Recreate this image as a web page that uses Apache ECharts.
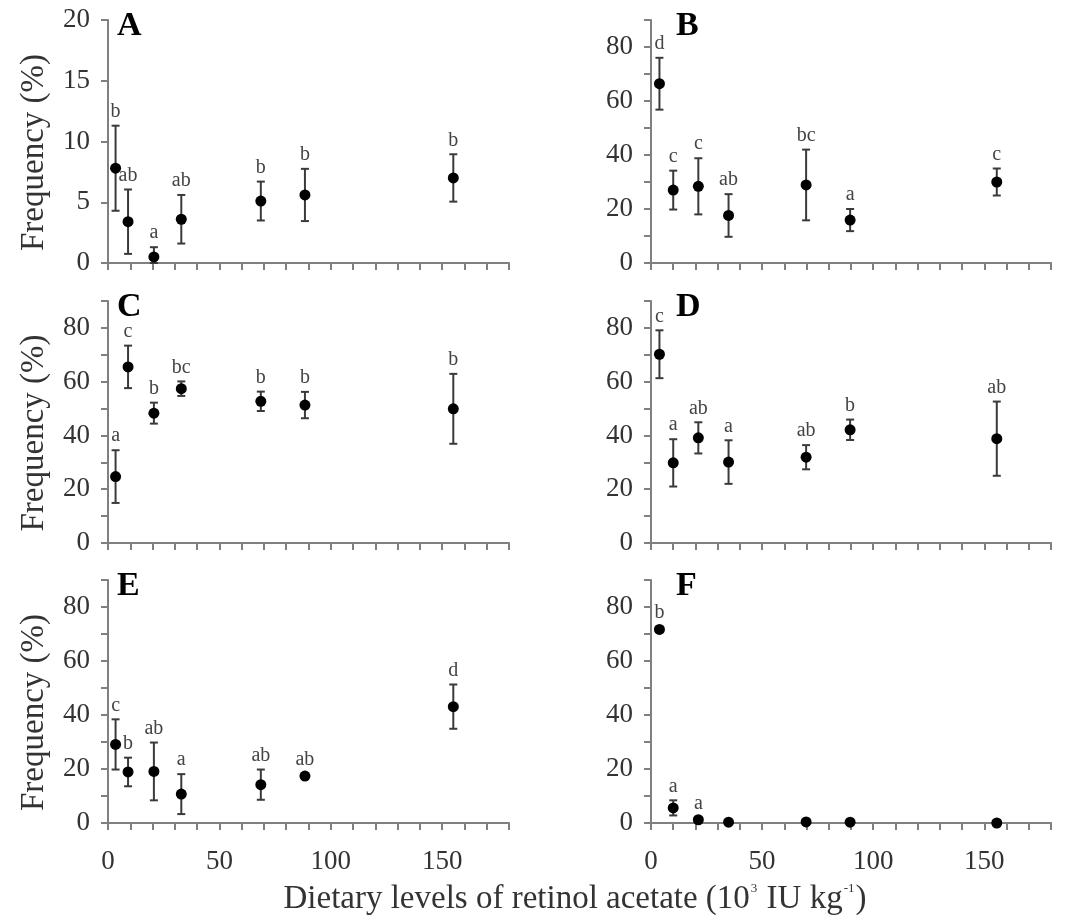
<!DOCTYPE html>
<html>
<head>
<meta charset="utf-8">
<script src="https://cdn.jsdelivr.net/npm/echarts@6/dist/echarts.min.js"></script>
<style>
html,body{margin:0;padding:0;background:#fff;}
#chart{width:1071px;height:919px;}
</style>
</head>
<body>
<div id="chart"></div>
<script>
// Dietary levels (x positions) for left and right columns
const xLeft  = [3.4, 9.0, 20.6, 32.9, 68.6, 88.4, 155.0];
const xRight = [3.8, 10.0, 21.3, 34.9, 69.8, 89.6, 155.6];

const meanA = [7.8, 3.4, 0.5, 3.6, 5.1, 5.6, 7.0];
const sdA   = [3.5, 2.65, 0.8, 2.0, 1.6, 2.15, 1.95];
const letA  = ['b','ab','a','ab','b','b','b'];

const meanB = [66.4, 27.0, 28.4, 17.6, 28.9, 15.9, 30.0];
const sdB   = [9.6, 7.2, 10.4, 7.9, 13.1, 4.1, 5.0];
const letB  = ['d','c','c','ab','bc','a','c'];

const meanC = [24.7, 65.5, 48.3, 57.4, 52.7, 51.3, 49.9];
const sdC   = [9.8, 7.9, 3.9, 2.7, 3.6, 4.9, 13.0];
const letC  = ['a','c','b','bc','b','b','b'];

const meanD = [70.2, 29.8, 39.1, 30.1, 31.9, 42.1, 38.8];
const sdD   = [8.9, 8.8, 5.8, 8.1, 4.5, 3.8, 13.8];
const letD  = ['c','a','ab','a','ab','b','ab'];

const meanE = [29.1, 18.9, 19.1, 10.7, 14.2, 17.4, 43.1];
const sdE   = [9.3, 5.3, 10.7, 7.4, 5.6, 0.9, 8.2];
const letE  = ['c','b','ab','a','ab','ab','d'];

const meanF = [71.7, 5.6, 1.2, 0.3, 0.4, 0.3, 0.0];
const sdF   = [1.0, 2.8, 0.8, 0.3, 0.3, 0.3, 0.3];
const letF  = ['b','a','a','','','',''];

const panelNames = ['A','B','C','D','E','F'];
const yMaxes = [20, 90, 90, 90, 90, 90];
const yIntervals = [5, 10, 10, 10, 10, 10];
const xTickLabels = ['0','50','100','150'];

const FONT = '"Liberation Serif", "Times New Roman", serif';
const AXIS_COLOR = '#808080';
const TEXT_COLOR = '#333';

const panels = [
  {x: xLeft,  m: meanA, s: sdA, l: letA},
  {x: xRight, m: meanB, s: sdB, l: letB},
  {x: xLeft,  m: meanC, s: sdC, l: letC},
  {x: xRight, m: meanD, s: sdD, l: letD},
  {x: xLeft,  m: meanE, s: sdE, l: letE},
  {x: xRight, m: meanF, s: sdF, l: letF}
];

const rowTops = [20, 301, 580];
const rowHeights = [243, 242, 243];
const colLefts = [108, 651];
const colWidths = [401, 400];

const grids = [], xAxes = [], yAxes = [], series = [], graphics = [];

panels.forEach((p, i) => {
  const row = Math.floor(i / 2), col = i % 2;
  grids.push({left: colLefts[col], top: rowTops[row], width: colWidths[col], height: rowHeights[row], containLabel: false});
  const bottomRow = row === 2;
  xAxes.push({
    type: 'value', gridIndex: i, min: 0, max: 180, interval: 10,
    axisLine: {show: true, onZero: false, lineStyle: {color: AXIS_COLOR, width: 2}},
    axisTick: {show: true, inside: false, length: 7, lineStyle: {color: AXIS_COLOR, width: 2}},
    splitLine: {show: false},
    axisLabel: {
      show: bottomRow, margin: 25, fontSize: 27, fontFamily: FONT, color: TEXT_COLOR,
      formatter: v => (xTickLabels.indexOf(String(v)) >= 0 ? String(v) : '')
    }
  });
  yAxes.push({
    type: 'value', gridIndex: i, min: 0, max: yMaxes[i], interval: yIntervals[i],
    axisLine: {show: true, onZero: false, lineStyle: {color: AXIS_COLOR, width: 2}},
    axisTick: {show: true, inside: false, length: 7, lineStyle: {color: AXIS_COLOR, width: 2}},
    splitLine: {show: false},
    axisLabel: {
      margin: 18, fontSize: 27, fontFamily: FONT, color: TEXT_COLOR,
      formatter: v => (yMaxes[i] === 20 ? String(v) : (v % 20 === 0 ? String(v) : ''))
    }
  });

  const ebData = p.x.map((x, k) => [x, Math.max(0, p.m[k] - p.s[k]), p.m[k] + p.s[k], p.l[k]]);
  series.push({
    type: 'custom', xAxisIndex: i, yAxisIndex: i, z: 3,
    data: ebData,
    encode: {x: 0, y: [1, 2]},
    renderItem: (params, api) => {
      const x = api.value(0), lo = api.value(1), hi = api.value(2);
      const letter = ebData[params.dataIndex][3];
      const pLo = api.coord([x, lo]);
      const pHi = api.coord([x, hi]);
      const w = 4;
      const st = {stroke: '#3a3a3a', lineWidth: 2};
      const children = [
        {type: 'line', shape: {x1: pHi[0], y1: pHi[1], x2: pLo[0], y2: pLo[1]}, style: st},
        {type: 'line', shape: {x1: pHi[0] - w, y1: pHi[1], x2: pHi[0] + w, y2: pHi[1]}, style: st},
        {type: 'line', shape: {x1: pLo[0] - w, y1: pLo[1], x2: pLo[0] + w, y2: pLo[1]}, style: st}
      ];
      if (letter) {
        children.push({
          type: 'text', x: pHi[0], y: pHi[1] - 4,
          style: {text: letter, font: '20px ' + FONT, fill: '#444', align: 'center', verticalAlign: 'bottom'}
        });
      }
      return {type: 'group', children: children};
    }
  });
  series.push({
    type: 'scatter', xAxisIndex: i, yAxisIndex: i, z: 4,
    symbol: 'circle', symbolSize: 11,
    itemStyle: {color: '#000', opacity: 1},
    data: p.x.map((x, k) => [x, p.m[k]])
  });

  graphics.push({
    type: 'text',
    x: colLefts[col] + (col === 0 ? 9 : 25),
    y: rowTops[row] + 6,
    style: {text: panelNames[i], font: 'bold 34px ' + FONT, fill: '#000', align: 'left', verticalAlign: 'middle'}
  });
  if (col === 0) {
    graphics.push({
      type: 'text', x: 34, y: rowTops[row] + rowHeights[row] / 2 + 11,
      rotation: Math.PI / 2,
      style: {text: 'Frequency (%)', font: '33px ' + FONT, fill: TEXT_COLOR, align: 'center', verticalAlign: 'middle'}
    });
  }
});

graphics.push({
  type: 'text', x: 575, y: 897,
  style: {
    text: '{a|Dietary levels of retinol acetate (10}{s|3}{a| IU kg}{s|-1}{a|)}',
    align: 'center', verticalAlign: 'middle',
    rich: {
      a: {fontSize: 33, fontFamily: FONT, fill: TEXT_COLOR, color: TEXT_COLOR, lineHeight: 38, verticalAlign: 'bottom'},
      s: {fontSize: 13, fontFamily: FONT, fill: TEXT_COLOR, color: TEXT_COLOR, lineHeight: 38, verticalAlign: 'top', padding: [4, 1, 0, 1]}
    }
  }
});

const chart = echarts.init(document.getElementById('chart'), null, {renderer: 'canvas'});
chart.setOption({
  backgroundColor: '#fff',
  animation: false,
  grid: grids,
  xAxis: xAxes,
  yAxis: yAxes,
  series: series,
  graphic: graphics
});
</script>
</body>
</html>
